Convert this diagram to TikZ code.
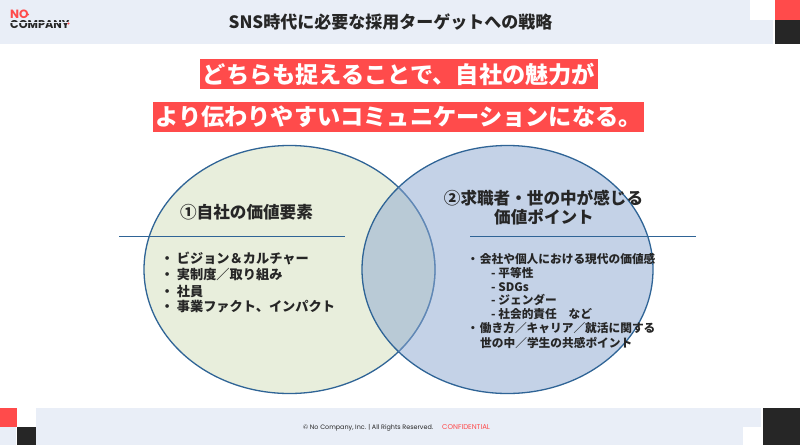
\documentclass[tikz,border=0pt]{standalone}
\usepackage{fontspec}
\setmainfont{Noto Sans CJK JP}
\newfontfamily\pop{Poppins}
\definecolor{band}{HTML}{E9EEF7}
\definecolor{redc}{HTML}{FF4B4B}
\definecolor{dark}{HTML}{262626}
\definecolor{lineblue}{HTML}{2F6496}
\definecolor{greenfill}{HTML}{E8EEDC}
\definecolor{bluefill}{HTML}{8BA7D1}
\tikzset{
  banner/.style={fill=redc,text=white,inner sep=0pt,minimum height=30pt,font=\bfseries\fontsize{23.2}{23.2}\selectfont,anchor=center},
  bodyl/.style={anchor=base west,text=dark,inner sep=0pt,font=\fontsize{13.2}{13.2}\selectfont\bfseries},
  bodyr/.style={anchor=base west,text=dark,inner sep=0pt,font=\fontsize{11.7}{11.7}\selectfont\bfseries},
  head/.style={anchor=center,text=dark,inner sep=0pt,font=\fontsize{16.6}{16.6}\selectfont\bfseries},
  rulel/.style={draw=lineblue,line width=1.3pt},
  circ/.style={draw=lineblue,line width=1.3pt},
  foot/.style={inner sep=0pt,anchor=base west}
}
\begin{document}
\begin{tikzpicture}[x=1pt,y=-1pt]
\useasboundingbox (0,0) rectangle (800,447);
\fill[white] (0,0) rectangle (800,447);
% header
\fill[band] (0,0) rectangle (773,44);
\fill[white] (750,0) rectangle (773,20);
\fill[redc] (775,0) rectangle (800,20);
\fill[dark] (775,20) rectangle (800,44);
% footer
\fill[band] (36,408) rectangle (761,445);
\fill[band] (0,427) rectangle (16,445);
\fill[redc] (0,408) rectangle (16.5,427);
\fill[dark] (17,427) rectangle (35.5,445);
\fill[white] (743,427) rectangle (761,445);
\fill[dark] (762.5,408) rectangle (800,445);
% logo
\node[inner sep=0pt,anchor=base west,text=redc,text height=7.5pt,text depth=0pt] (logoa) at (10,18) {\pop\bfseries\fontsize{12}{12}\selectfont NO};
\node[inner sep=0pt,anchor=base west,text=dark,text height=8pt,text depth=0pt] (logob) at (10,28) {\pop\bfseries\fontsize{11.3}{11.3}\selectfont COMPANY};
\fill[band] (8,21.8) rectangle (72,23);
\fill[redc] (28,14.5) circle (1.2);
\fill[redc] (68.5,23.5) circle (1.2);
% title
\node[text=dark,inner sep=0pt,font=\fontsize{17}{17}\selectfont\bfseries] (title) at (390.5,22) {SNS時代に必要な採用ターゲットへの戦略};
% banners
\node[banner,minimum width=398pt] (b1) at (399,74) {どちらも捉えることで、自社の魅力が};
\node[banner,minimum width=491pt] (b2) at (398.5,117) {より伝わりやすいコミュニケーションになる。};
% ellipses
\draw[circ,fill=greenfill] (289.5,269.5) ellipse [x radius=145.5,y radius=124];
\fill[bluefill,fill opacity=0.5] (507.5,269.5) ellipse [x radius=145.5,y radius=124];
\draw[circ] (507.5,269.5) ellipse [x radius=145.5,y radius=124];
\begin{scope}
\clip (507.5,269.5) ellipse [x radius=145.5,y radius=124];
\draw[lineblue!45!bluefill,line width=1.3pt,opacity=0.6] (289.5,269.5) ellipse [x radius=145.5,y radius=124];
\end{scope}
% rules
\coordinate (r1a) at (119,236.5); \coordinate (r1b) at (345,236.5);
\coordinate (r2a) at (470,236.5); \coordinate (r2b) at (696,236.5);
\draw[rulel] (r1a) -- (r1b);
\draw[rulel] (r2a) -- (r2b);
% headings
\node[head] (h1) at (246.5,212) {①自社の価値要素};
\node[head] (h2a) at (543.5,198) {②求職者・世の中が感じる};
\node[head] (h2b) at (544,217) {価値ポイント};
% left body
\node[bodyl] (l1) at (160.5,263) {・\hspace{3pt}ビジョン＆カルチャー};
\node[bodyl] (l2) at (160.5,279) {・\hspace{3pt}実制度／取り組み};
\node[bodyl] (l3) at (160.5,296) {・\hspace{3pt}社員};
\node[bodyl] (l4) at (160.5,311) {・\hspace{3pt}事業ファクト、インパクト};
% right body
\node[bodyr] (r1) at (467,263) {・\hspace{1pt}会社や個人における現代の価値感};
\node[bodyr] (r2) at (491,277) {- 平等性};
\node[bodyr] (r3) at (491,291) {- SDGs};
\node[bodyr] (r4) at (491,304.5) {- ジェンダー};
\node[bodyr] (r5) at (491,318) {- 社会的責任　など};
\node[bodyr] (r6) at (467,332) {・\hspace{1pt}働き方／キャリア／就活に関する};
\node[bodyr] (r7) at (480,347) {世の中／学生の共感ポイント};
% footer text
\node[foot,text=dark,font=\pop\fontsize{6.4}{6.4}\selectfont] (c1) at (303,429) {© No Company, Inc. | All Rights Reserved.};
\node[foot,text=redc,font=\pop\fontsize{7}{7}\selectfont] (c2) at (442,429) {CONFIDENTIAL};
\end{tikzpicture}
\end{document}
